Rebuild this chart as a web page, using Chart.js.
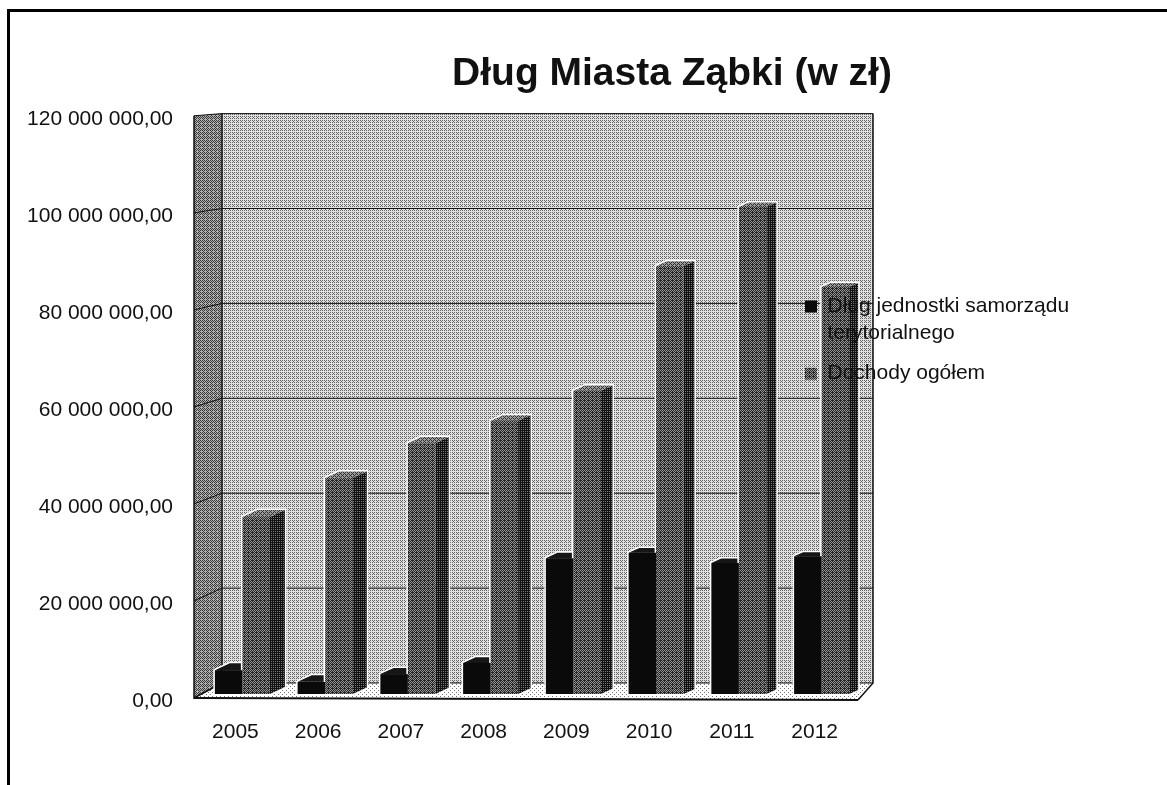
<!DOCTYPE html>
<html lang="pl">

<head>
    <meta charset="UTF-8">
    <title>Dług Miasta Ząbki</title>
    <script src="https://cdn.jsdelivr.net/npm/chart.js"></script>
    <style>
        html, body { margin: 0; padding: 0; background: #fff; overflow: hidden; }
        #wrap { position: relative; width: 1167px; height: 785px; }
    </style>
</head>

<body>
    <div id="wrap"><canvas id="myChart"></canvas></div>

    <script>
        const lata = ['2005', '2006', '2007', '2008', '2009', '2010', '2011', '2012'];
        const dlug = [4900000, 2500000, 4100000, 6400000, 28000000, 29100000, 27000000, 28400000];
        const dochody = [36500000, 44500000, 51700000, 56300000, 62500000, 88200000, 100400000, 83900000];
        const nazwaDlug = ['Dług jednostki samorządu', 'terytorialnego'];
        const nazwaDochody = 'Dochody ogółem';
        const tytul = 'Dług Miasta Ząbki (w zł)';

        // halftone tiles, the scan of the original is dithered
        const bayer = [0, 8, 2, 10, 12, 4, 14, 6, 3, 11, 1, 9, 15, 7, 13, 5];

        function dither(level, dark, light) {
            const c = document.createElement('canvas');
            c.width = 4;
            c.height = 4;
            const x = c.getContext('2d');
            for (let i = 0; i < 16; i++) {
                x.fillStyle = bayer[i] < level ? dark : light;
                x.fillRect(i % 4, Math.floor(i / 4), 1, 1);
            }
            return x.createPattern(c, 'repeat');
        }

        const wzorSciana = dither(5, '#666666', '#e0e0e0');
        const wzorLewa = dither(7, '#3a3a3a', '#b0b0b0');
        const wzorPodloga = dither(2, '#777777', '#ffffff');
        const wzorSlupek = dither(9, '#262626', '#929292');
        const wzorBok = dither(12, '#111111', '#777777');
        const wzorGora = dither(6, '#333333', '#999999');

        function wielokat(ctx, punkty, fill) {
            ctx.beginPath();
            punkty.forEach(function (p, i) {
                if (i == 0) ctx.moveTo(p[0], p[1]);
                else ctx.lineTo(p[0], p[1]);
            });
            ctx.closePath();
            ctx.fillStyle = fill;
            ctx.fill();
        }

        // bars sit in the middle of the 3D box
        const przesuniecieX = 7;
        const przesuniecieY = -4;

        function bokiSlupkow(ctx, meta, czarny) {
            const ile = meta.data.length - 1;
            meta.data.forEach(function (bar, i) {
                const p = bar.getProps(['x', 'y', 'base', 'width'], true);
                const l = p.x - p.width / 2;
                const r = p.x + p.width / 2;
                // the perspective flattens the bars towards the right
                const dx = 15 - 6 * i / ile;
                const dy = 7 - 3 * i / ile;
                // white halo the scan leaves round each bar
                ctx.beginPath();
                ctx.moveTo(l, p.base);
                ctx.lineTo(l, p.y);
                ctx.lineTo(l + dx, p.y - dy);
                ctx.lineTo(r + dx, p.y - dy);
                ctx.lineTo(r + dx, p.base - dy);
                ctx.lineTo(r, p.base);
                ctx.closePath();
                ctx.strokeStyle = '#ffffff';
                ctx.lineWidth = 3;
                ctx.stroke();
                wielokat(ctx, [[r, p.y], [r + dx, p.y - dy], [r + dx, p.base - dy], [r, p.base]], czarny ? '#050505' : wzorBok);
                wielokat(ctx, [[l, p.y], [l + dx, p.y - dy], [r + dx, p.y - dy], [r, p.y]], czarny ? '#161616' : wzorGora);
            });
        }

        const przestrzen3d = {
            id: 'przestrzen3d',
            beforeLayout(chart) {
                const legenda = chart.legend;
                legenda._layers = function () {
                    return [{ z: 5, draw: function () { legenda.draw(); } }];
                };
            },
            afterLayout(chart) {
                const legenda = chart.legend;
                const w = legenda.width;
                legenda.left = 792;
                legenda.right = 792 + w;
                legenda.top = 283;
                legenda.bottom = 283 + legenda.height;
                chart.titleBlock.left += 244;
                chart.titleBlock.right += 244;
            },
            beforeDraw(chart) {
                const ctx = chart.ctx;
                const area = chart.chartArea;
                const y = chart.scales.y;
                const lewo = area.left;
                const tylLewo = lewo + 28;
                const tylPrawo = area.right + 17;
                const przodPrawo = area.right + 2;
                const tylY = function (v) {
                    return 683 - (area.bottom - y.getPixelForValue(v)) * 0.978;
                };

                ctx.save();
                ctx.fillStyle = '#ffffff';
                ctx.fillRect(0, 0, chart.width, chart.height);

                // page frame from the scan
                ctx.fillStyle = '#000000';
                ctx.fillRect(7, 9, chart.width - 7, 3);
                ctx.fillRect(7, 9, 3, chart.height - 9);

                const gora = y.max;
                wielokat(ctx, [[tylLewo, tylY(gora)], [tylPrawo, tylY(gora)], [tylPrawo, 683], [tylLewo, 683]], wzorSciana);
                wielokat(ctx, [[lewo, area.top], [tylLewo, tylY(gora)], [tylLewo, 683], [lewo, area.bottom]], wzorLewa);
                wielokat(ctx, [[lewo, area.bottom], [tylLewo, 683], [tylPrawo, 683], [przodPrawo, area.bottom + 2]], wzorPodloga);

                ctx.strokeStyle = '#111111';
                ctx.lineWidth = 1;
                y.ticks.forEach(function (t) {
                    const yb = tylY(t.value);
                    ctx.beginPath();
                    ctx.moveTo(lewo, y.getPixelForValue(t.value));
                    ctx.lineTo(tylLewo, yb);
                    ctx.lineTo(tylPrawo, yb);
                    ctx.stroke();
                });

                ctx.lineWidth = 1.5;
                ctx.beginPath();
                ctx.moveTo(tylLewo, tylY(gora));
                ctx.lineTo(tylLewo, 683);
                ctx.moveTo(tylPrawo, tylY(gora));
                ctx.lineTo(tylPrawo, 683);
                ctx.lineTo(przodPrawo, area.bottom + 2);
                ctx.moveTo(lewo, area.top);
                ctx.lineTo(lewo, area.bottom);
                ctx.lineTo(tylLewo, 683);
                ctx.stroke();
                ctx.lineWidth = 2;
                ctx.beginPath();
                ctx.moveTo(lewo, area.bottom);
                ctx.lineTo(przodPrawo, area.bottom + 2);
                ctx.stroke();
                ctx.restore();
            },
            beforeDatasetsDraw(chart) {
                const ctx = chart.ctx;
                ctx.save();
                ctx.translate(przesuniecieX, przesuniecieY);
                // side and top faces first, so the front of the next bar covers them
                bokiSlupkow(ctx, chart.getDatasetMeta(0), true);
                bokiSlupkow(ctx, chart.getDatasetMeta(1), false);
            },
            afterDatasetsDraw(chart) {
                chart.ctx.restore();
            }
        };

        const config = {
            type: 'bar',
            plugins: [przestrzen3d],
            data: {
                labels: lata,
                datasets: [{
                    label: nazwaDlug.join(' '),
                    data: dlug,
                    backgroundColor: '#0a0a0a',
                    clip: false
                }, {
                    label: nazwaDochody,
                    data: dochody,
                    backgroundColor: wzorSlupek,
                    clip: false
                }]
            },
            options: {
                responsive: true,
                maintainAspectRatio: false,
                animation: false,
                categoryPercentage: 0.665,
                barPercentage: 1,
                layout: { padding: { left: 0, right: 311, top: 0, bottom: 0 } },
                plugins: {
                    title: {
                        display: true,
                        text: tytul,
                        color: '#111111',
                        font: { family: '"Liberation Sans"', size: 39, weight: 'bold', lineHeight: 1.2 },
                        padding: { top: 51, bottom: 18 }
                    },
                    tooltip: { enabled: false },
                    legend: {
                        position: 'chartArea',
                        align: 'start',
                        labels: {
                            boxWidth: 12,
                            boxHeight: 12,
                            padding: 13,
                            color: '#111111',
                            font: { family: '"Liberation Sans"', size: 21, lineHeight: 1.29 },
                            generateLabels(chart) {
                                const itens = Chart.defaults.plugins.legend.labels.generateLabels(chart);
                                itens[0].text = nazwaDlug;
                                return itens;
                            }
                        }
                    }
                },
                scales: {
                    x: {
                        grid: { display: false, drawTicks: false },
                        border: { display: false },
                        ticks: {
                            color: '#111111',
                            padding: 22,
                            maxRotation: 0,
                            font: { family: '"Liberation Sans"', size: 21 }
                        },
                        afterFit(scale) { scale.height = 87; }
                    },
                    y: {
                        min: 0,
                        max: 120000000,
                        grid: { display: false, drawTicks: false },
                        border: { display: false },
                        ticks: {
                            stepSize: 20000000,
                            color: '#111111',
                            padding: 21,
                            labelOffset: 3,
                            font: { family: '"Liberation Sans"', size: 21 },
                            callback: function (v) {
                                return String(v).replace(/\B(?=(\d{3})+$)/g, ' ') + ',00';
                            }
                        },
                        afterFit(scale) { scale.width = 194; }
                    }
                }
            }
        };

        const myChart = new Chart(document.getElementById('myChart'), config);
    </script>
</body>

</html>
